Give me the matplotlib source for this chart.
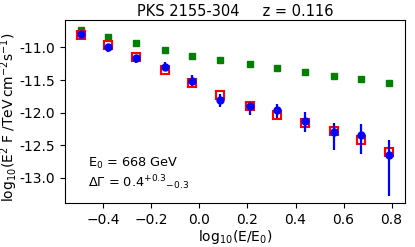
import numpy as np
import matplotlib
matplotlib.use("Agg")
import matplotlib.pyplot as plt

# log10(E/E0) bins
log_e = [-0.495, -0.381, -0.266, -0.144, -0.030, 0.087,
         0.209, 0.323, 0.438, 0.560, 0.674, 0.791]

# intrinsic (green), model (red squares), observed (blue)
intrinsic = [-10.739, -10.842, -10.939, -11.041, -11.138, -11.199,
             -11.261, -11.317, -11.373, -11.434, -11.491, -11.552]
model = [-10.816, -10.969, -11.149, -11.353, -11.552, -11.736,
         -11.905, -12.032, -12.155, -12.288, -12.416, -12.606]
observed = [-10.790, -10.995, -11.164, -11.302, -11.521, -11.813,
            -11.900, -11.966, -12.135, -12.299, -12.350, -12.656]
err_lo = [0.04, 0.077, 0.072, 0.061, 0.077, 0.10,
          0.143, 0.112, 0.164, 0.281, 0.281, 0.629]
err_hi = [0.04, 0.051, 0.051, 0.077, 0.092, 0.10,
          0.05, 0.092, 0.143, 0.138, 0.169, 0.240]

yticks = [-11.0, -11.5, -12.0, -12.5, -13.0]

fig = plt.figure(figsize=(4.15, 2.47), dpi=100)
ax = fig.add_axes([0.1566, 0.177, 0.8193, 0.742])

ax.plot(log_e, intrinsic, 's', color='green', ms=5, zorder=2)
ax.plot(log_e, model, 's', mfc='none', mec='red', mew=1.5, ms=6, zorder=3)
ax.errorbar(log_e, observed, yerr=[err_lo, err_hi], fmt='o', color='blue',
            ms=5, elinewidth=1.6, capsize=0, zorder=4)

ax.set_xlim(-0.56, 0.856)
ax.set_ylim(-13.39, -10.58)
ax.set_xticks([-0.4, -0.2, 0.0, 0.2, 0.4, 0.6, 0.8])
ax.set_yticks(yticks)
ax.set_yticklabels(['%.1f' % v for v in yticks])

ax.set_xlabel(r'log$_{10}$(E/E$_0$)', fontsize=10, labelpad=1)
ax.set_ylabel(r'log$_{10}$(E$^2$ F /TeV$\,$cm$^{-2}$s$^{-1}$)', fontsize=10)
ax.yaxis.set_label_coords(-0.131, 0.47)
ax.set_title('PKS 2155-304     z = 0.116', fontsize=10.5, pad=3)

ax.text(-0.465, -12.78, r'E$_0$ = 668 GeV', fontsize=9.3, va='center')
ax.text(-0.465, -13.07, r'$\Delta\Gamma$ = 0.4$^{+0.3}$$_{-0.3}$',
        fontsize=9.3, va='center')

fig.savefig('out.png', dpi=100)
